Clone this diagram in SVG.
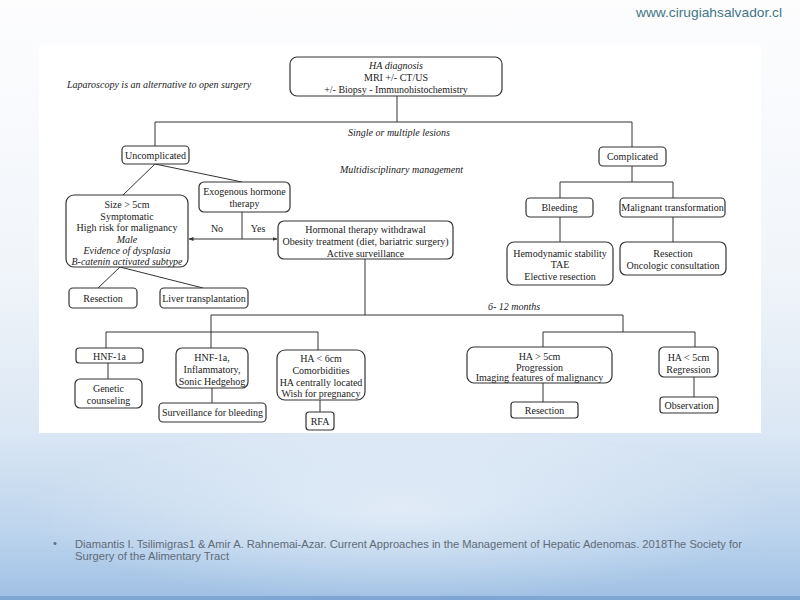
<svg xmlns="http://www.w3.org/2000/svg" width="800" height="600" viewBox="0 0 800 600">
<defs>
<linearGradient id="bg" x1="0" y1="0" x2="0" y2="1">
<stop offset="0" stop-color="#fdfdfe"/>
<stop offset="0.45" stop-color="#f1f5fa"/>
<stop offset="0.72" stop-color="#dbe7f4"/>
<stop offset="0.9" stop-color="#b9d2ec"/>
<stop offset="1" stop-color="#9fc0e4"/>
</linearGradient>
<radialGradient id="glow" cx="0.5" cy="0.45" r="0.5">
<stop offset="0" stop-color="#ffffff" stop-opacity="0.5"/>
<stop offset="1" stop-color="#ffffff" stop-opacity="0"/>
</radialGradient>
<marker id="arr" viewBox="0 0 10 10" refX="9" refY="5" markerWidth="5" markerHeight="5" orient="auto-start-reverse">
<path d="M0,1 L10,5 L0,9 z" fill="#333"/>
</marker>
<style>
.b{fill:#fff;stroke:#333;stroke-width:1.2}
.t{font-family:"Liberation Serif","Times New Roman",serif;font-size:10px;fill:#1a1a1a;text-anchor:middle}
.i{font-style:italic}
.l{text-anchor:start}
.c{fill:none;stroke:#333;stroke-width:1}
</style>
</defs>
<rect width="800" height="600" fill="url(#bg)"/>
<ellipse cx="400" cy="520" rx="380" ry="90" fill="url(#glow)"/>
<rect x="0" y="596" width="800" height="4" fill="#7ea6d0"/>
<rect x="39" y="45" width="722" height="388" fill="#fff"/>
<text x="782" y="17" font-family="'Liberation Sans',Arial,sans-serif" font-size="13.5" fill="#437685" text-anchor="end" textLength="146" lengthAdjust="spacingAndGlyphs">www.cirugiahsalvador.cl</text>

<g id="connectors">
<path class="c" d="M397,96 V122 M155,122 H632 M155,122 V146 M632,122 V147"/>
<path class="c" d="M155,164 L123,195 M155,164 L242,182"/>
<path class="c" d="M242,212 V239"/>
<line class="c" x1="242" y1="239" x2="189" y2="239" marker-end="url(#arr)"/>
<line class="c" x1="242" y1="239" x2="277" y2="239" marker-end="url(#arr)"/>
<path class="c" d="M120,267 L98,288 M120,267 L203,288"/>
<path class="c" d="M365,259 V315 M211,315 H623 M211,315 V348 M623,315 V332"/>
<path class="c" d="M106,332 H318 M106,332 V348 M318,332 V350"/>
<path class="c" d="M108,363 V379 M212,388 V403 M320,400 V412"/>
<path class="c" d="M543,332 H695 M543,332 V347 M695,332 V347 M543,383 V402 M694,377 V397"/>
<path class="c" d="M632,166 V182 M560,182 H673 M560,182 V198 M673,182 V198 M560,217 V242 M673,217 V242"/>
</g>

<text class="t i l" x="67" y="88">Laparoscopy is an alternative to open surgery</text>
<text class="t i l" x="348" y="136">Single or multiple lesions</text>
<text class="t i l" x="340" y="173">Multidisciplinary management</text>
<text class="t i l" x="488" y="310">6- 12 months</text>
<text class="t" x="217" y="232">No</text>
<text class="t" x="258" y="232">Yes</text>

<g id="ha-diagnosis">
<rect class="b" x="290" y="57" width="212" height="39" rx="7"/>
<text class="t i" x="396" y="69">HA diagnosis</text>
<text class="t" x="396" y="81">MRI +/- CT/US</text>
<text class="t" x="396" y="93">+/- Biopsy - Immunohistochemistry</text>
</g>
<g id="uncomplicated">
<rect class="b" x="122" y="146" width="67" height="18" rx="4"/>
<text class="t" x="155.5" y="158.5">Uncomplicated</text>
</g>
<g id="complicated">
<rect class="b" x="599" y="147" width="67" height="19" rx="4"/>
<text class="t" x="632.5" y="160">Complicated</text>
</g>
<g id="exogenous">
<rect class="b" x="199" y="182" width="91" height="30" rx="5"/>
<text class="t" x="244.5" y="195">Exogenous hormone</text>
<text class="t" x="244.5" y="207">therapy</text>
</g>
<g id="size">
<rect class="b" x="66" y="195" width="122" height="72" rx="8"/>
<text class="t" x="127" y="208">Size &gt; 5cm</text>
<text class="t" x="127" y="219.5">Symptomatic</text>
<text class="t" x="127" y="231">High risk for malignancy</text>
<text class="t i" x="127" y="242.5">Male</text>
<text class="t i" x="127" y="253.5">Evidence of dysplasia</text>
<text class="t i" x="127" y="264.5">B-catenin activated subtype</text>
</g>
<g id="hormonal">
<rect class="b" x="278" y="221" width="175" height="38" rx="6"/>
<text class="t" x="365.5" y="233">Hormonal therapy withdrawal</text>
<text class="t" x="365.5" y="245">Obesity treatment (diet, bariatric surgery)</text>
<text class="t" x="365.5" y="257">Active surveillance</text>
</g>
<g id="resection-left">
<rect class="b" x="69" y="288" width="68" height="20" rx="4"/>
<text class="t" x="103" y="301.5">Resection</text>
</g>
<g id="liver">
<rect class="b" x="160" y="288" width="88" height="20" rx="4"/>
<text class="t" x="204" y="301.5">Liver transplantation</text>
</g>
<g id="hnf1a">
<rect class="b" x="76" y="348" width="67" height="15" rx="3"/>
<text class="t" x="109.5" y="359.5">HNF-1a</text>
</g>
<g id="genetic">
<rect class="b" x="75" y="379" width="67" height="29" rx="5"/>
<text class="t" x="108.5" y="391.5">Genetic</text>
<text class="t" x="108.5" y="403.5">counseling</text>
</g>
<g id="hnf-inflammatory">
<rect class="b" x="176" y="348" width="72" height="40" rx="6"/>
<text class="t" x="212" y="360.5">HNF-1a,</text>
<text class="t" x="212" y="373">Inflammatory,</text>
<text class="t" x="212" y="385">Sonic Hedgehog</text>
</g>
<g id="surveillance">
<rect class="b" x="159" y="403" width="107" height="19" rx="4"/>
<text class="t" x="212.5" y="416">Surveillance for bleeding</text>
</g>
<g id="ha-lt-6">
<rect class="b" x="277" y="350" width="88" height="50" rx="8"/>
<text class="t" x="321" y="361.5">HA &lt; 6cm</text>
<text class="t" x="321" y="373.5">Comorbidities</text>
<text class="t" x="321" y="385.5">HA centrally located</text>
<text class="t" x="321" y="397">Wish for pregnancy</text>
</g>
<g id="rfa">
<rect class="b" x="306" y="412" width="28" height="18" rx="3"/>
<text class="t" x="320" y="424.5">RFA</text>
</g>
<g id="ha-gt-5">
<rect class="b" x="467" y="347" width="145" height="36" rx="7"/>
<text class="t" x="539.5" y="360">HA &gt; 5cm</text>
<text class="t" x="539.5" y="370.5">Progression</text>
<text class="t" x="539.5" y="381">Imaging features of malignancy</text>
</g>
<g id="resection-right">
<rect class="b" x="511" y="402" width="67" height="16" rx="3"/>
<text class="t" x="544.5" y="413.5">Resection</text>
</g>
<g id="ha-lt-5">
<rect class="b" x="659" y="347" width="59" height="30" rx="5"/>
<text class="t" x="688.5" y="360.5">HA &lt; 5cm</text>
<text class="t" x="688.5" y="372.5">Regression</text>
</g>
<g id="observation">
<rect class="b" x="660" y="397" width="58" height="16" rx="3"/>
<text class="t" x="689" y="408.5">Observation</text>
</g>
<g id="bleeding">
<rect class="b" x="526" y="198" width="67" height="19" rx="4"/>
<text class="t" x="559.5" y="211">Bleeding</text>
</g>
<g id="malignant">
<rect class="b" x="620" y="198" width="105" height="19" rx="4"/>
<text class="t" x="672.5" y="211">Malignant transformation</text>
</g>
<g id="hemodynamic">
<rect class="b" x="507" y="242" width="106" height="43" rx="7"/>
<text class="t" x="560" y="256.5">Hemodynamic stability</text>
<text class="t" x="560" y="268">TAE</text>
<text class="t" x="560" y="279.5">Elective resection</text>
</g>
<g id="oncologic">
<rect class="b" x="620" y="242" width="106" height="33" rx="6"/>
<text class="t" x="673" y="256.5">Resection</text>
<text class="t" x="673" y="268.5">Oncologic consultation</text>
</g>

<g font-family="'Liberation Sans',Arial,sans-serif" font-size="11" fill="#5f6b78">
<text x="53" y="547">•</text>
<text x="75" y="547.5" textLength="667" lengthAdjust="spacingAndGlyphs">Diamantis I. Tsilimigras1 &amp; Amir A. Rahnemai-Azar. Current Approaches in the Management of Hepatic Adenomas. 2018The Society for</text>
<text x="75" y="559.5" textLength="154" lengthAdjust="spacingAndGlyphs">Surgery of the Alimentary Tract</text>
</g>
</svg>
